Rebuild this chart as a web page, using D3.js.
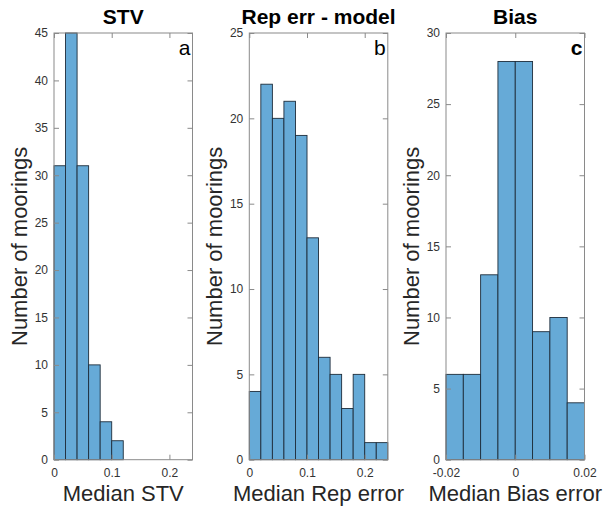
<!DOCTYPE html>
<html>
<head>
<meta charset="utf-8">
<script src="https://cdn.jsdelivr.net/npm/d3@7"></script>
<style>
  body { margin: 0; background: #fff; }
  svg { display: block; font-family: "Liberation Sans", Arial, Helvetica, sans-serif; }
</style>
</head>
<body>
<svg width="606" height="510"></svg>
<script>
// histogram data
const titles = ["STV", "Rep err - model", "Bias"];
const letters = ["a", "b", "c"];
const xLabels = ["Median STV", "Median Rep error", "Median Bias error"];
const yLabel = "Number of moorings";

const stvEdges = [0, 0.02, 0.04, 0.06, 0.08, 0.10, 0.12];
const stvCounts = [31, 45, 31, 10, 4, 2];

const repEdges = [0, 0.02, 0.04, 0.06, 0.08, 0.10, 0.12, 0.14, 0.16, 0.18, 0.20, 0.22, 0.24];
const repCounts = [4, 22, 20, 21, 19, 13, 6, 5, 3, 5, 1, 1];

const biasEdges = [-0.02, -0.015, -0.01, -0.005, 0, 0.005, 0.01, 0.015, 0.02];
const biasCounts = [6, 6, 13, 28, 28, 9, 10, 4];

const xDomains = [[0, 0.24], [0, 0.24], [-0.02, 0.02]];
const yDomains = [[0, 45], [0, 25], [0, 30]];
const xTicks = [[0, 0.1, 0.2], [0, 0.1, 0.2], [-0.02, 0, 0.02]];
const yTicks = [[0, 5, 10, 15, 20, 25, 30, 35, 40, 45], [0, 5, 10, 15, 20, 25], [0, 5, 10, 15, 20, 25, 30]];

const edges = [stvEdges, repEdges, biasEdges];
const counts = [stvCounts, repCounts, biasCounts];

const svg = d3.select("svg");
const lefts = [54, 249.3, 446];
const pw = 138.5, plotTop = 33, plotBottom = 459.7;
const tickLen = 5;
const boxColor = "#8a8a8a";

lefts.forEach((left, p) => {
	const x = d3.scaleLinear(xDomains[p], [left, left + pw]);
	const y = d3.scaleLinear(yDomains[p], [plotBottom, plotTop]);
	const g = svg.append("g");

	const bins = counts[p].map((c, i) => ({ x0: edges[p][i], x1: edges[p][i + 1], c }));

	g.selectAll(".bar")
		.data(bins)
		.join("rect")
		.attr("class", "bar")
		.attr("x", d => x(d.x0))
		.attr("y", d => y(d.c))
		.attr("width", d => x(d.x1) - x(d.x0))
		.attr("height", d => y(0) - y(d.c))
		.attr("fill", "#66aad7")
		.attr("stroke", "#1e2d3b")
		.attr("stroke-width", 0.9);

	// box
	g.append("rect")
		.attr("x", left).attr("y", plotTop)
		.attr("width", pw).attr("height", plotBottom - plotTop)
		.attr("fill", "none")
		.attr("stroke", boxColor)
		.attr("stroke-width", 1);

	// inward ticks on all sides
	const xAxB = d3.axisBottom(x).tickValues(xTicks[p]).tickSize(-tickLen).tickPadding(9)
		.tickFormat(d => d === 0 ? "0" : String(d));
	const xAxT = d3.axisTop(x).tickValues(xTicks[p]).tickSize(-tickLen).tickFormat("");
	const yAxL = d3.axisLeft(y).tickValues(yTicks[p]).tickSize(-tickLen).tickPadding(6);
	const yAxR = d3.axisRight(y).tickValues(yTicks[p]).tickSize(-tickLen).tickFormat("");

	const axes = [
		g.append("g").attr("transform", `translate(0,${plotBottom})`).call(xAxB),
		g.append("g").attr("transform", `translate(0,${plotTop})`).call(xAxT),
		g.append("g").attr("transform", `translate(${left},0)`).call(yAxL),
		g.append("g").attr("transform", `translate(${left + pw},0)`).call(yAxR)
	];
	axes.forEach(a => {
		a.select(".domain").remove();
		a.selectAll("line").attr("stroke", boxColor);
		a.selectAll("text")
			.attr("font-size", 12)
			.attr("font-family", "Liberation Sans, Arial, sans-serif")
			.attr("fill", "#333");
	});

	// title
	svg.append("text")
		.attr("x", left + pw / 2)
		.attr("y", 24)
		.attr("text-anchor", "middle")
		.attr("font-size", 21)
		.attr("font-weight", "bold")
		.attr("fill", "#000")
		.text(titles[p]);

	// panel letter
	svg.append("text")
		.attr("x", left + pw - 2)
		.attr("y", plotTop + 22)
		.attr("text-anchor", "end")
		.attr("font-size", 21)
		.attr("font-weight", p === 2 ? "bold" : "normal")
		.attr("fill", "#000")
		.text(letters[p]);

	// x label
	svg.append("text")
		.attr("x", left + pw / 2)
		.attr("y", 501)
		.attr("text-anchor", "middle")
		.attr("font-size", 22)
		.attr("fill", "#262626")
		.text(xLabels[p]);

	// y label
	svg.append("text")
		.attr("transform", `translate(${left - 27},${(plotTop + plotBottom) / 2}) rotate(-90)`)
		.attr("text-anchor", "middle")
		.attr("font-size", 22)
		.attr("fill", "#262626")
		.text(yLabel);
});
</script>
</body>
</html>
